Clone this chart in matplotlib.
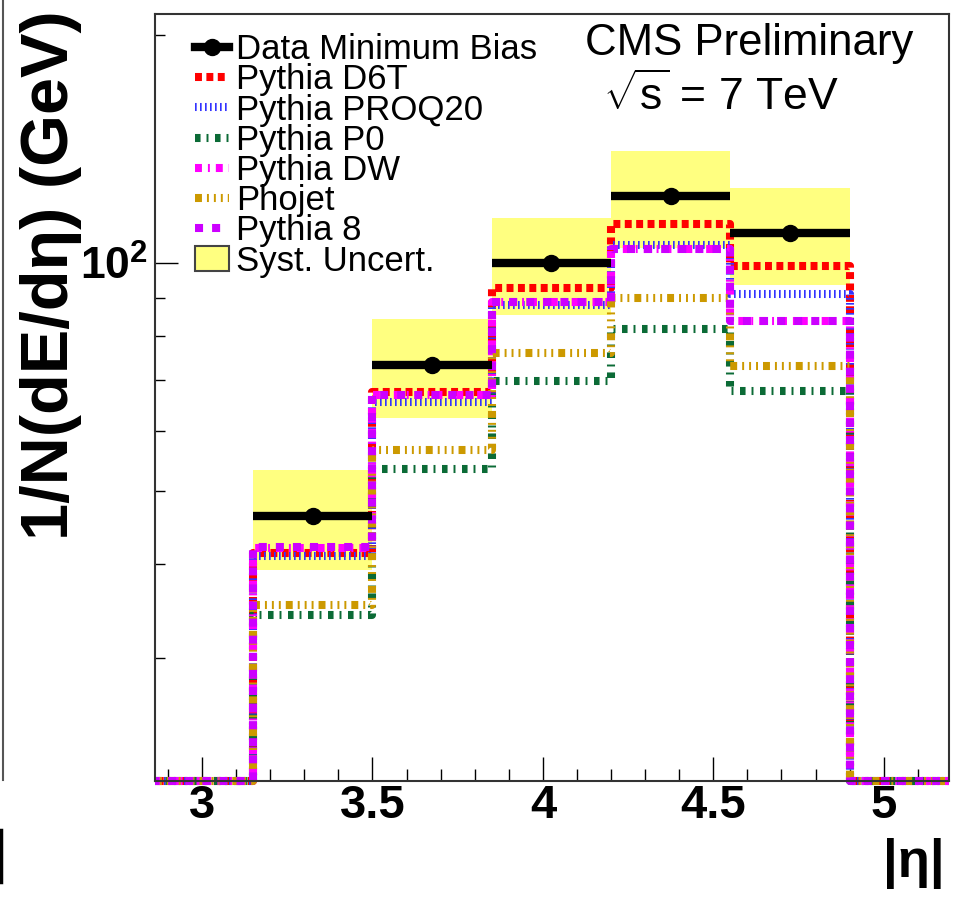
import numpy as np
import matplotlib
matplotlib.use('Agg')
import matplotlib.pyplot as plt
from matplotlib.lines import Line2D
from matplotlib.patches import Patch, Rectangle
from matplotlib.ticker import FixedLocator, FixedFormatter, LogLocator, NullFormatter, MultipleLocator

plt.rcParams['font.family'] = ['Liberation Sans', 'DejaVu Sans']
plt.rcParams['mathtext.fontset'] = 'custom'
plt.rcParams['mathtext.rm'] = 'Liberation Sans'
plt.rcParams['mathtext.it'] = 'Liberation Sans'
plt.rcParams['mathtext.bf'] = 'Liberation Sans:bold'
plt.rcParams['lines.scale_dashes'] = False

# |eta| bin edges and per-bin values (0 = empty bin)
edges = np.array([2.8, 3.15, 3.5, 3.85, 4.2, 4.55, 4.9, 5.25])
data = np.array([0, 46.3, 73.3, 100.0, 122.6, 109.5, 0])
syst = np.array([0, 7.0, 11.0, 14.7, 18.0, 16.0, 0])

d6t = np.array([0, 41.3, 67.5, 92.7, 112.5, 99.0, 0])
proq20 = np.array([0, 41.0, 65.5, 88.0, 105.6, 91.0, 0])
p0 = np.array([0, 34.2, 53.4, 69.9, 81.8, 67.7, 0])
dw = np.array([0, 42.0, 67.0, 88.8, 104.3, 83.9, 0])
phojet = np.array([0, 35.3, 56.6, 76.1, 89.9, 73.0, 0])
pythia8 = np.array([0, 42.1, 67.0, 88.8, 104.3, 83.9, 0])

xticks = [3, 3.5, 4, 4.5, 5]
xtick_labels = ['3', '3.5', '4', '4.5', '5']

ylo, yhi = 20.65, 213.5

mc = [
    ('Pythia D6T', d6t, '#ff0000', (5.0, 3.2)),
    ('Pythia PROQ20', proq20, '#3333ff', (1.2, 2.4)),
    ('Pythia P0', p0, '#0b6b36', (4.0, 4.3, 1.4, 4.7)),
    ('Pythia DW', dw, '#ff00ff', (5.0, 4.3, 1.4, 4.3)),
    ('Phojet', phojet, '#cc9900', (5.0, 3.6, 1.4, 3.6, 1.4, 3.6, 1.4, 3.6)),
    ('Pythia 8', pythia8, '#cc00ff', (5.8, 6.5)),
]

fig = plt.figure(figsize=(9.61, 9.02), dpi=100)
ax = fig.add_axes([0.1613, 0.1341, 0.8257, 0.8504])
ax.set_yscale('log')
ax.set_xlim(2.862, 5.19)
ax.set_ylim(ylo, yhi)

centers = (edges[:-1] + edges[1:]) / 2
widths = np.diff(edges)
m = data > 0

ax.bar(centers[m], 2 * syst[m], bottom=data[m] - syst[m], width=widths[m],
       color='#ffff80', edgecolor='none', zorder=1)

handles = []
for name, vals, color, dashes in mc:
    y = np.where(vals > 0, vals, ylo)
    ln, = ax.step(edges, np.append(y, y[-1]), where='post', color=color,
                  lw=5.8, linestyle=(0, dashes), zorder=2)
    ln.set_clip_path(Rectangle((0, -0.03), 1, 1.03, transform=ax.transAxes))
    handles.append(ln)

ax.errorbar(centers[m], data[m], xerr=widths[m] / 2, fmt='o', color='k',
            ms=11.5, elinewidth=6, capsize=0, zorder=4)

data_h = Line2D([], [], color='k', lw=6, marker='o', ms=11.5)
syst_h = Patch(facecolor='#ffff80', edgecolor='#444444', lw=1.5)
labels = ['Data Minimum Bias'] + [x[0] for x in mc] + ['Syst. Uncert.']
ax.legend([data_h] + handles + [syst_h], labels, loc='upper left',
          bbox_to_anchor=(0.05, 0.975), fontsize=25, frameon=False,
          borderpad=0, borderaxespad=0, handlelength=1.0,
          handletextpad=0.2, labelspacing=-0.08)

# axes
ax.set_xticks(xticks)
ax.set_xticklabels(xtick_labels, fontweight='bold')
ax.xaxis.set_minor_locator(MultipleLocator(0.1))
ax.yaxis.set_major_locator(FixedLocator([100]))
ax.yaxis.set_major_formatter(FixedFormatter([r'$\mathbf{10^{2}}$']))
ax.yaxis.set_minor_locator(LogLocator(base=10, subs=range(2, 10)))
ax.yaxis.set_minor_formatter(NullFormatter())
ax.tick_params(axis='x', which='major', direction='in', length=17, width=1,
               labelsize=34, pad=2)
ax.tick_params(axis='x', which='minor', direction='in', length=8.6, width=1)
ax.tick_params(axis='y', which='major', direction='in', length=16.5, width=1,
               labelsize=32, pad=5)
ax.tick_params(axis='y', which='minor', direction='in', length=7.2, width=1)
for s in ax.spines.values():
    s.set_linewidth(1.5)
    s.set_color('#333333')

ax.set_ylabel('1/N(dE/dη) (GeV)', fontsize=48, fontweight='bold')
ax.yaxis.set_label_coords(-0.092, 0.66)
ax.set_xlabel('|η|', fontsize=38, fontweight='bold', loc='right')
ax.xaxis.set_label_coords(0.9956, -0.074)

ax.text(0.542, 0.9466, 'CMS Preliminary', fontsize=31.5, transform=ax.transAxes,
        ha='left', va='baseline')
ax.text(0.5646, 0.8748, r'$\sqrt{s}$ = 7 TeV', fontsize=32, transform=ax.transAxes,
        ha='left', va='baseline')

# edges of the neighbouring panel that the crop cut through
fig.add_artist(Line2D([0.003, 0.003], [1.0, 1 - 780 / 902], transform=fig.transFigure,
                      color='#555555', lw=1.5))
fig.add_artist(Line2D([0.001, 0.001], [1 - 830 / 902, 1 - 882 / 902],
                      transform=fig.transFigure, color='k', lw=2.5))

fig.savefig('out.png', dpi=100)
